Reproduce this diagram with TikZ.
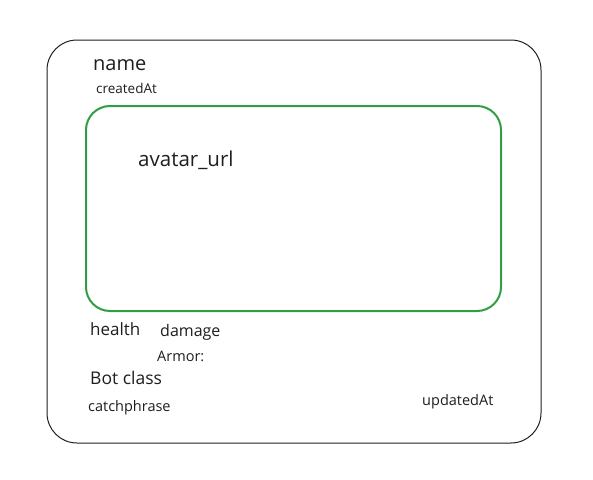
\documentclass[tikz,border=0pt]{standalone}
\usepackage{fontspec}
\setmainfont{Open Sans}
\definecolor{ink}{HTML}{1E1E1E}
\definecolor{grn}{HTML}{2F9E44}
\begin{document}
\begin{tikzpicture}[x=1pt,y=-1pt,
  lbl/.style={anchor=base west,inner sep=0pt,text=ink},
  outerbox/.style={draw=ink,line width=1pt,rounded corners=30pt},
  imgbox/.style={draw=grn,line width=2pt,rounded corners=24pt}]
\useasboundingbox (0,0) rectangle (593,479);
\node[outerbox,minimum width=494pt,minimum height=403pt,inner sep=0pt] (card) at (294,241.5) {};
\node[imgbox,minimum width=415pt,minimum height=205pt,inner sep=0pt] (avatar) at (293.5,208.5) {};
\node[lbl,font=\fontsize{20}{24}\selectfont] (name) at (93,70) {name};
\node[lbl,font=\fontsize{13.5}{16}\selectfont] (created) at (96,93) {createdAt};
\node[lbl,font=\fontsize{20.5}{24}\selectfont] (url) at (138,166) {avatar\_url};
\node[lbl,font=\fontsize{17}{20}\selectfont] (health) at (90,335) {health};
\node[lbl,font=\fontsize{16}{19}\selectfont] (damage) at (160,336) {damage};
\node[lbl,font=\fontsize{14.5}{17}\selectfont] (armor) at (157,361) {Armor:};
\node[lbl,font=\fontsize{17.5}{20}\selectfont] (bot) at (90,384) {Bot class};
\node[lbl,font=\fontsize{14.5}{17}\selectfont] (catch) at (88,411) {catchphrase};
\node[lbl,font=\fontsize{14.5}{17}\selectfont] (updated) at (422,405) {updatedAt};
\end{tikzpicture}
\end{document}
